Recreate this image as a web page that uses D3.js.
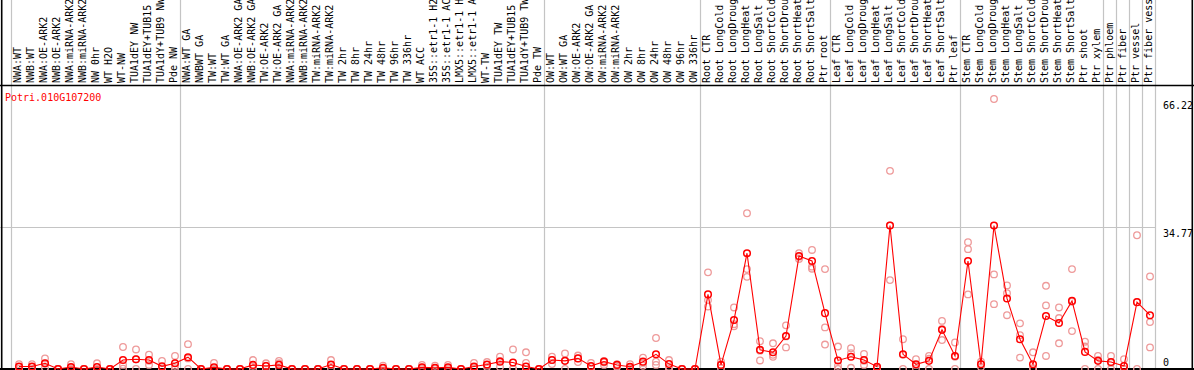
<!DOCTYPE html>
<html>
<head>
<meta charset="utf-8">
<script src="https://cdn.jsdelivr.net/npm/d3@7"></script>
<style>
  html, body { margin: 0; padding: 0; background: #fff; }
  svg { display: block; }
  text { font-family: "DejaVu Sans Mono", "Liberation Mono", monospace; font-size: 10px; }
</style>
</head>
<body>
<svg id="chart" width="1194" height="370"></svg>
<script>
const title = "Potri.010G107200";

const categories = [
  "NWA:WT","NWB:WT","NWA:OE-ARK2","NWB:OE-ARK2","NWA:miRNA-ARK2","NWB:miRNA-ARK2","NW 0hr","WT H2O","WT-NW",
  "TUA1dEY NW","TUA1dEY+TUB15 NW","TUA1dY+TUB9 NW","Pde NW",
  "NWA:WT GA","NWBWT GA","TW:WT","TW:WT GA","NWA:OE-ARK2 GA","NWB:OE-ARK2 GA","TW:OE-ARK2","TW:OE-ARK2 GA",
  "NWA:miRNA-ARK2","NWB:miRNA-ARK2","TW:miRNA-ARK2","TW:miRNA-ARK2","TW 2hr","TW 8hr","TW 24hr","TW 48hr","TW 96hr",
  "TW 336hr","WT ACC","35S::etr1-1 H2O","35S::etr1-1 ACC","LMX5::etr1-1 H2O","LMX5::etr1-1 ACC","WT-TW",
  "TUA1dEY TW","TUA1dEY+TUB15 TW","TUA1dY+TUB9 TW","Pde TW",
  "OW:WT","OW:WT GA","OW:OE-ARK2","OW:OE-ARK2 GA","OW:miRNA-ARK2","OW:miRNA-ARK2","OW 2hr","OW 8hr","OW 24hr",
  "OW 48hr","OW 96hr","OW 336hr",
  "Root CTR","Root LongCold","Root LongDrought","Root LongHeat","Root LongSalt","Root ShortCold","Root ShortDrought",
  "Root ShortHeat","Root ShortSalt","Ptr root",
  "Leaf CTR","Leaf LongCold","Leaf LongDrought","Leaf LongHeat","Leaf LongSalt","Leaf ShortCold","Leaf ShortDrought",
  "Leaf ShortHeat","Leaf ShortSalt","Ptr leaf",
  "Stem CTR","Stem LongCold","Stem LongDrought","Stem LongHeat","Stem LongSalt","Stem ShortCold","Stem ShortDrought",
  "Stem ShortHeat","Stem ShortSalt","Ptr shoot","Ptr xylem",
  "Ptr phloem","Ptr fiber","Ptr vessel","Ptr fiber vessel"
];

// index of the first category of each group (vertical separators)
const groupStarts = [0, 13, 41, 53, 63, 73, 84, 85, 86, 87];

const meanValues = [
  0.6,0.6,1.4,0,0.5,0,0.5,0,2.2,2.4,2.2,0.65,1.4,
  2.9,0,0.4,0,0,1.0,0.75,1.0,0,0,0,1.1,0,0,0,0.3,0,0,0.4,0.3,0.4,0,0.6,1.1,1.8,1.6,0.6,0,
  2.2,2.0,2.6,0.75,1.8,1.0,0.56,1.8,3.6,1.2,0,0,
  18.3,1.0,12.0,28.4,4.7,4.1,8.1,27.7,26.5,13.7,
  2.1,3.0,2.2,0.56,35.2,3.6,1.15,2.0,9.6,3.2,
  26.5,1.15,35.2,17.3,7.3,1.15,13.0,11.3,16.7,4.2,2.0,
  1.7,0.74,16.4,13.2
];

const rep1 = [
  1.2,1.2,2.6,0,1.2,0,1.4,0,5.4,4.8,3.5,2.0,3.2,
  6.1,0,1.5,0,0,2.2,1.4,2.0,0,0,0,2.2,0,0,0,0.8,0,0,1.0,0.8,1.0,0,1.5,1.7,3.0,4.8,4.1,0,
  3.0,3.8,3.3,1.5,2.0,1.2,1.2,2.8,7.6,2.2,0,0,
  23.7,1.8,15.1,38.2,6.8,6.3,10.7,28.4,29.2,24.5,
  5.5,5.1,3.7,0.5,48.6,7.3,2.4,3.2,11.8,6.5,
  31.1,1.8,66.22,20.5,11.2,4.1,20.4,15.1,24.5,6.7,3.2,
  3.2,2.4,32.8,22.7
];

const rep2 = [
  0.5,0.5,1.3,0,0.3,0,0.1,0,1.0,2.4,2.0,0,0.8,
  2.6,0,0,0,0,0.8,0.8,1.4,0,0,0,1.0,0,0,0,0.1,0,0,0.3,0.1,0.2,0,0.3,1.0,2.0,0,1.5,0,
  2.2,2.0,2.6,0.5,1.6,0.8,0.3,1.5,1.8,0.5,0,0,
  16.9,1.0,10.5,24.5,4.5,3.5,8.0,27.5,25.1,10.2,
  0.8,3.9,2.0,0.2,35.2,3.5,1.0,2.5,9.8,3.0,
  29.4,1.2,23.2,18.6,8.3,0.2,15.6,12.5,16.5,5.5,2.2,
  1.5,0,16.4,11.5
];

const rep3 = [
  0.1,0.1,0.3,0,0,0,0,0,0.1,0,1.0,0,0.2,
  0,0,0,0,0,0.1,0,0,0,0,0,0.1,0,0,0,0,0,0,0,0,0,0,0,0.5,0.5,0,0,0,
  1.2,0,1.7,0,1.0,0.5,0,0.8,1.0,0,0,0,
  15.3,0.2,11.0,22.6,2.1,3.0,5.3,27.0,24.6,6.0,
  0,0.3,1.0,0,21.8,0,0.1,0,7.1,0,
  18.3,0.5,15.9,13.2,2.8,0,3.2,6.3,9.3,0,0,
  0,0,0,5.3
];

const yTickValues = [0, 34.77, 66.22];
const yTickLabels = ["0", "34.77", "66.22"];

// ---------- drawing ----------
const W = 1194, H = 370;
const svg = d3.select("#chart");
svg.append("rect").attr("width", W).attr("height", H).attr("fill", "#fff");

const plotLeft = 11, plotRight = 1155, headerBottom = 85.5, plotBottom = 369;

const x = d3.scaleBand().domain(d3.range(categories.length)).range([plotLeft, plotRight]).padding(0);
const cx = i => x(i) + 8;
const y = d3.scaleLinear().domain([0, 66.22]).range([plotBottom, 99]);

const gridColor = "#c4c4c4";

// vertical group separators (through header as well)
const sepX = groupStarts.map(i => x(i)).concat([plotRight]);
svg.append("g").selectAll("line").data(sepX).join("line")
  .attr("x1", d => d + 0.5).attr("x2", d => d + 0.5)
  .attr("y1", 0).attr("y2", plotBottom)
  .attr("stroke", gridColor).attr("stroke-width", 1.2);

// horizontal grid line at the middle tick
svg.append("line")
  .attr("x1", 0).attr("x2", plotRight)
  .attr("y1", Math.round(y(34.77)) + 0.5).attr("y2", Math.round(y(34.77)) + 0.5)
  .attr("stroke", gridColor).attr("stroke-width", 1.2);

// category labels (rotated)
svg.append("g").selectAll("text").data(categories).join("text")
  .attr("transform", (d, i) => `translate(${cx(i) + 1.8},83) rotate(-90)`)
  .attr("text-anchor", "start")
  .attr("fill", "#000")
  .text(d => d);

// frame lines
svg.append("line").attr("x1", 0).attr("x2", W).attr("y1", headerBottom).attr("y2", headerBottom)
  .attr("stroke", "#000").attr("stroke-width", 1.3);
svg.append("line").attr("x1", 1.7).attr("x2", 1.7).attr("y1", 0).attr("y2", H)
  .attr("stroke", "#000").attr("stroke-width", 1.6);
svg.append("line").attr("x1", 1192.3).attr("x2", 1192.3).attr("y1", 0).attr("y2", H)
  .attr("stroke", "#000").attr("stroke-width", 1.6);
svg.append("line").attr("x1", 0).attr("x2", W).attr("y1", 369).attr("y2", 369)
  .attr("stroke", "#000").attr("stroke-width", 2);

// title
svg.append("text").attr("x", 5).attr("y", 101).attr("fill", "#ff0000").text(title);

// y tick labels
svg.append("g").selectAll("text").data(yTickValues).join("text")
  .attr("x", 1163)
  .attr("y", (d, i) => d === 0 ? y(d) - 3 : y(d) + 10)
  .attr("fill", "#000")
  .text((d, i) => yTickLabels[i]);

// replicate points
const reps = [];
[rep1, rep2, rep3].forEach(arr => arr.forEach((v, i) => reps.push({ i, v })));
svg.append("g").selectAll("circle").data(reps).join("circle")
  .attr("cx", d => cx(d.i)).attr("cy", d => y(d.v)).attr("r", 3.3)
  .attr("fill", "none").attr("stroke", "#ee9a9a").attr("stroke-width", 1.3);

// mean line
const line = d3.line().x((d, i) => cx(i)).y(d => y(d));
svg.append("path").datum(meanValues).attr("d", line)
  .attr("fill", "none").attr("stroke", "#ff0000").attr("stroke-width", 1.1);

// mean points
svg.append("g").selectAll("circle").data(meanValues).join("circle")
  .attr("cx", (d, i) => cx(i)).attr("cy", d => y(d)).attr("r", 3.3)
  .attr("fill", "none").attr("stroke", "#ff0000").attr("stroke-width", 1.5);
</script>
</body>
</html>
